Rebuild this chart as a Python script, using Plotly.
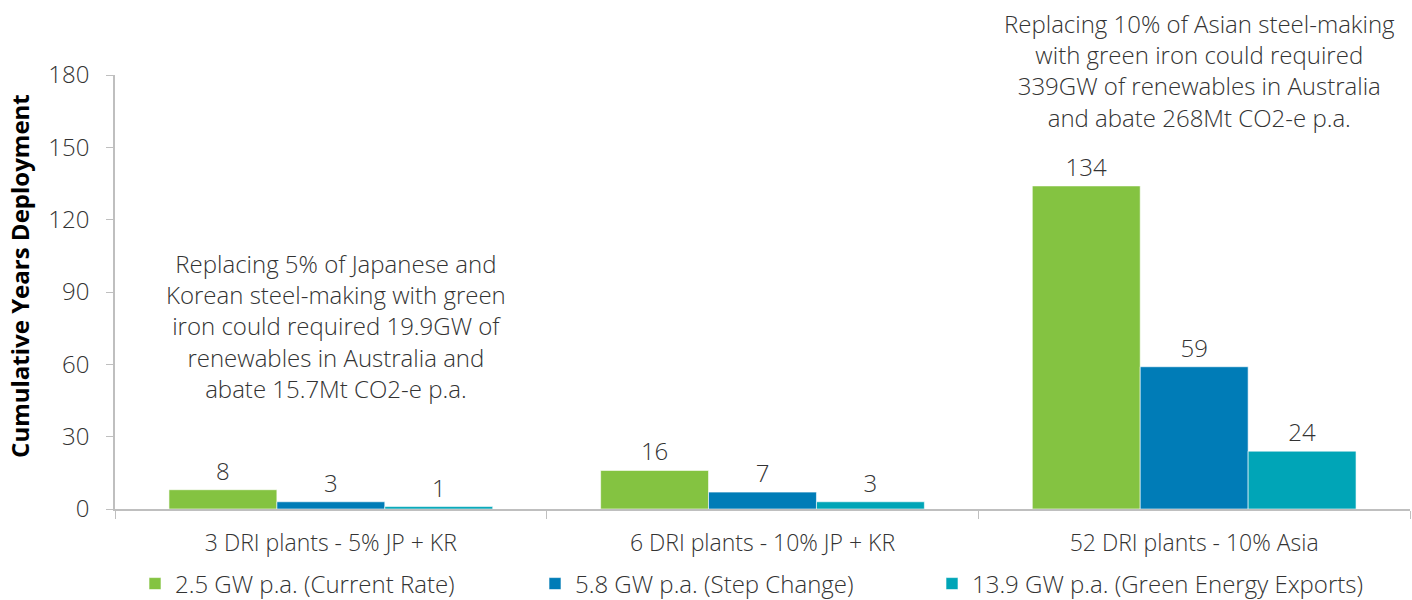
import plotly.graph_objects as go

categories = ["3 DRI plants - 5% JP + KR", "6 DRI plants - 10% JP + KR", "52 DRI plants - 10% Asia"]
series_names = ["2.5 GW p.a. (Current Rate)", "5.8 GW p.a. (Step Change)", "13.9 GW p.a. (Green Energy Exports)"]
current_rate = [8, 16, 134]
step_change = [3, 7, 59]
green_exports = [1, 3, 24]
colors = ["#84C341", "#007CB7", "#00A5B7"]
y_ticks = [0, 30, 60, 90, 120, 150, 180]

note_1 = ("Replacing 5% of Japanese and<br>Korean steel-making with green<br>iron could required 19.9GW of"
          "<br>renewables in Australia and<br>abate 15.7Mt CO2-e p.a.")
note_2 = ("Replacing 10% of Asian steel-making<br>with green iron could required<br>339GW of renewables in Australia"
          "<br>and abate 268Mt CO2-e p.a.")
y_title = "Cumulative Years Deployment"

FONT = "Open Sans"
TXT = "#333333"
FS = 24

fig = go.Figure()
legend_ids = ["legend", "legend2", "legend3"]
for name, vals, col, lid in zip(series_names, [current_rate, step_change, green_exports], colors, legend_ids):
    fig.add_trace(go.Bar(
        x=categories, y=vals, name=name, legend=lid,
        marker=dict(color=col, line=dict(color="rgba(255,255,255,0.6)", width=1)),
        text=[str(v) for v in vals], textposition="outside",
        textfont=dict(family=FONT, size=FS, color=TXT, weight=300),
        cliponaxis=False,
    ))

fig.add_annotation(x=0, y=76, xref="x", yref="y", text=note_1, showarrow=False,
                   xshift=5, font=dict(family=FONT, size=FS, color=TXT, weight=300),
                   align="center", yanchor="middle")
fig.add_annotation(x=2, y=1.011, xref="x", yref="paper", text=note_2, showarrow=False,
                   xshift=5, font=dict(family=FONT, size=FS, color=TXT, weight=300),
                   align="center", yanchor="middle")
fig.add_annotation(x=-0.0734, y=0.537, xref="paper", yref="paper", text=y_title, showarrow=False,
                   textangle=-90, font=dict(family=FONT, size=24, color="#000000", weight=700),
                   xanchor="center", yanchor="middle")

leg_common = dict(orientation="h", yref="container", yanchor="middle", y=0.0267, xanchor="left",
                  font=dict(family=FONT, size=FS, color=TXT, weight=300), bgcolor="rgba(0,0,0,0)")
# legend positions in paper coords (plot spans x=115..1410 px)
leg_x = [(135 - 115) / 1295, (535 - 115) / 1295, (932 - 115) / 1295]

fig.update_layout(
    width=1412, height=600,
    margin=dict(l=115, r=2, t=75, b=91),
    plot_bgcolor="white", paper_bgcolor="white",
    barmode="group", bargap=0.25, bargroupgap=0,
    font=dict(family=FONT, color=TXT, size=FS),
    showlegend=True,
    legend=dict(x=leg_x[0], **leg_common),
    legend2=dict(x=leg_x[1], **leg_common),
    legend3=dict(x=leg_x[2], **leg_common),
    xaxis=dict(type="category", tickson="boundaries", ticks="outside", ticklen=8,
               tickcolor="#BFBFBF", showline=True, linecolor="#BFBFBF", linewidth=1.5,
               ticklabelstandoff=13,
               tickfont=dict(family=FONT, size=23, color=TXT, weight=300), showgrid=False,
               automargin=False),
    yaxis=dict(range=[0, 180], tickvals=y_ticks, ticks="outside", ticklen=7,
               tickcolor="#BFBFBF", showline=True, linecolor="#BFBFBF", linewidth=1.5,
               showgrid=False, zeroline=False, automargin=False, ticklabelstandoff=12,
               tickfont=dict(family=FONT, size=FS, color=TXT, weight=300)),
)

fig.write_html("out.html")
